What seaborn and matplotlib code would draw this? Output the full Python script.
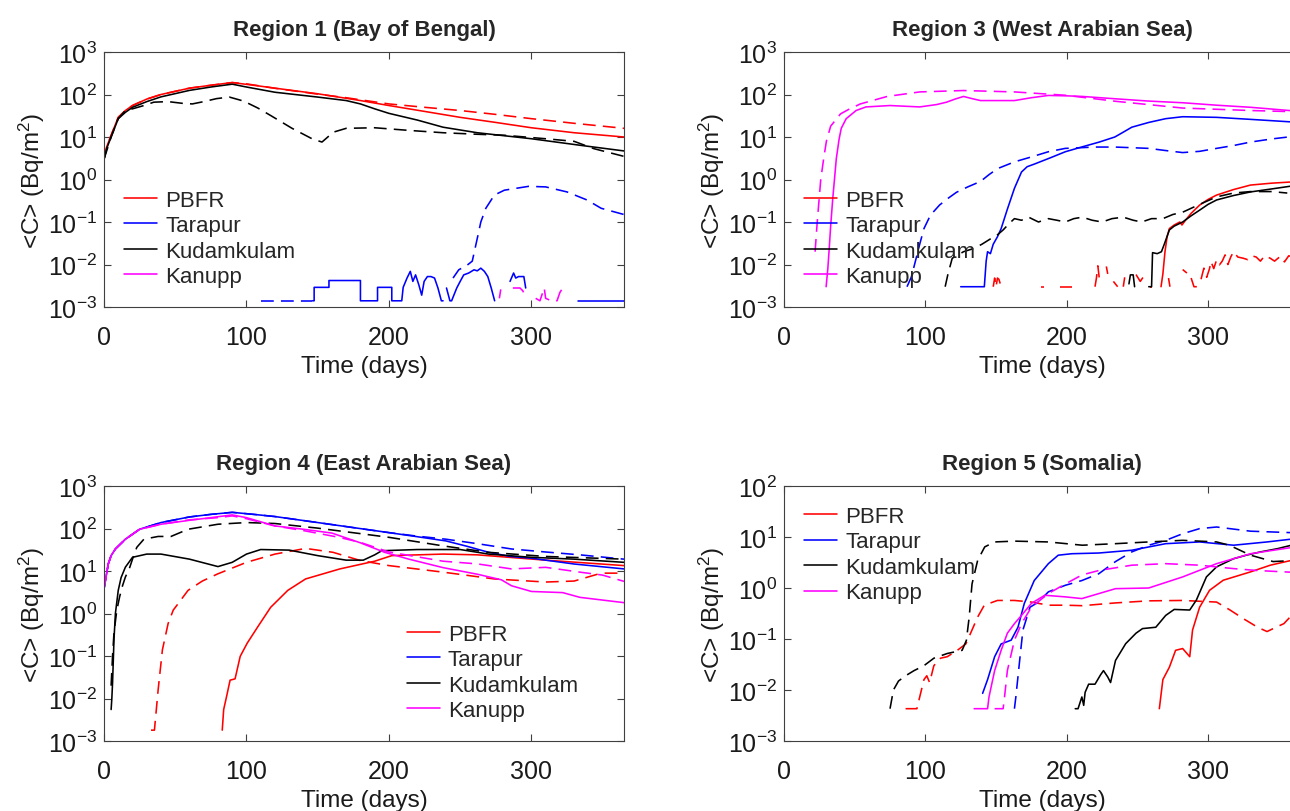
import numpy as np
import pandas as pd
import matplotlib
matplotlib.use('Agg')
import matplotlib.pyplot as plt
import seaborn as sns
from matplotlib.lines import Line2D
from matplotlib.ticker import NullLocator

nan = np.nan

# (day, Bq/m2); nan = break in the curve
# ---- Region 1 (Bay of Bengal)
r1_pbfr = [(0, 3), (2, 6), (5, 11), (10, 29), (15, 42), (20, 55), (30, 78), (40, 100), (60, 141), (75, 165),
           (90, 191), (105, 165), (120, 141), (150, 104), (180, 72), (200, 55), (225, 40), (250, 29), (275, 22),
           (300, 16.5), (330, 12.6), (365, 10)]
r1_pbfr_d = [(0, 3), (2, 6), (5, 11), (10, 29), (15, 42), (20, 55), (30, 78), (40, 100), (60, 141), (75, 165),
             (90, 191), (100, 178), (120, 140), (150, 102), (170, 84), (200, 60), (225, 50), (250, 42), (275, 34),
             (300, 27), (330, 21), (365, 16)]
r1_tar = [(146.3, 1.4e-3), (147.5, 1.4e-3), (147.5, 2.9e-3), (157.9, 2.9e-3), (157.9, 4.2e-3), (180, 4.2e-3),
          (180, 1.4e-3), (192, 1.4e-3), (192, 2.9e-3), (202, 2.9e-3), (202, 1.4e-3), (209, 1.4e-3), (210, 2.9e-3),
          (212.7, 4.8e-3), (215, 6.9e-3), (216.8, 4e-3), (218.7, 5.7e-3), (221, 3.3e-3), (223, 1.9e-3),
          (224.7, 4e-3), (227, 5.2e-3), (229.5, 5.2e-3), (232, 4.8e-3), (234.4, 2.8e-3), (236.8, 1.4e-3),
          (238, 1.4e-3), (239, nan), (240.4, 2.8e-3), (242.8, 1.4e-3), (244, 1.4e-3), (247.6, 2.8e-3),
          (250, 4e-3), (252.5, 5.7e-3), (256, 6.3e-3), (259.7, 7.5e-3), (262, 7.1e-3), (264.5, 8.2e-3),
          (267, 6.9e-3), (269.4, 5.2e-3), (271.8, 2.8e-3), (274.2, 1.4e-3), (280, nan), (285, 4e-3),
          (287.5, 6.3e-3), (289, 4.8e-3), (291, 5.2e-3), (294.7, 5.2e-3), (296, 2.8e-3), (300, nan),
          (333, 1.4e-3), (365, 1.4e-3)]
r1_tar_d = [(110, 1.4e-3), (146, 1.4e-3), (147, nan), (245, 4.8e-3), (249, 7.5e-3), (255, 9.7e-3),
            (258.5, 1.2e-2), (262, 0.041), (264.5, 0.1), (268, 0.21), (274, 0.43), (281, 0.56), (298, 0.69),
            (310, 0.67), (325, 0.51), (339, 0.33), (349, 0.21), (365, 0.15)]
r1_kud = [(0, 3), (2, 5.5), (5, 10), (10, 27), (15, 38), (20, 50), (30, 68), (40, 88), (60, 125), (75, 150),
          (90, 175), (100, 150), (120, 113), (150, 87), (170, 72), (180, 60), (190, 46), (200, 36), (220, 25),
          (238, 17), (262, 12.6), (300, 9.1), (334, 6.4), (365, 4.7)]
r1_kud_d = [(0, 3), (5, 10), (10, 27), (15, 42), (20, 46), (28, 55), (35, 66), (45, 68), (55, 62), (62, 60),
            (70, 68), (79, 80), (88, 87), (98, 70), (108, 48), (117, 32), (132, 16), (146, 9.1), (153, 7.6),
            (161, 13), (170, 16), (190, 16.5), (214, 14.3), (238, 12.6), (262, 11.6), (281, 11), (310, 9.1),
            (330, 7.9), (344, 5.3), (365, 3.5)]
r1_kan = []
r1_kan_d = [(277.5, 1.6e-3), (278.5, 2.6e-3), (280, nan), (287, 2.8e-3), (292, 2.8e-3), (294, 2.4e-3),
            (296, 1.6e-3), (297, nan), (303, 1.6e-3), (306, 1.4e-3), (309, 2.8e-3), (310, 1.6e-3), (314, 1.4e-3),
            (318, 1.4e-3), (320, 2.2e-3), (322, 2.8e-3), (325, 2.6e-3)]

# ---- Region 3 (West Arabian Sea)
r3_pbfr = [(266.7, 3e-3), (268, 6e-3), (269.5, 0.02), (271, 0.045), (272.6, 0.07), (276, 0.085), (280, 0.1),
           (281.5, 0.085), (284, 0.11), (288, 0.16), (294, 0.25), (300, 0.34), (306, 0.43), (318, 0.58),
           (330, 0.74), (345, 0.82), (365, 0.9)]
r3_pbfr_d = [(148, 3e-3), (149, 4.8e-3), (150, 3e-3), (151, 4.8e-3), (152, 4.5e-3), (153.6, 3e-3), (155, nan),
             (182, 3e-3), (184, 3e-3), (185, nan), (195, 3e-3), (204, 3e-3), (205, nan), (220, 3e-3),
             (221, 4.8e-3), (222, 9.3e-3), (223, 4.8e-3), (225, nan), (228, 9e-3), (229, 6e-3), (230, nan),
             (233, 4e-3), (236, 3e-3), (238, nan), (240, 3e-3), (241, 5e-3), (243, nan), (249, 5.8e-3),
             (252, 4e-3), (254, 5e-3), (256, nan), (259, 3e-3), (260, 3e-3), (262, nan), (272, 4.8e-3),
             (273, 3e-3), (275, nan), (282, 7.6e-3), (285, 6.3e-3), (287, nan), (288, 4.8e-3), (290, 3e-3),
             (292, 3e-3), (294, nan), (295, 4.5e-3), (297, 8.2e-3), (299, 5e-3), (301, 8e-3), (302, 0.0118),
             (304, 8e-3), (306, 0.0128), (308, 0.0098), (310, 0.012), (312, 0.0168), (314, 0.01), (316, 0.015),
             (318, 0.02), (321, 0.015), (325, 0.014), (328, 0.013), (331, 0.016), (334, 0.015), (337, 0.012),
             (340, 0.016), (344, 0.014), (347, 0.012), (351, 0.0155), (354, 0.0115), (357, 0.016), (365, 0.014)]
r3_tar = [(125, 3e-3), (141.7, 3e-3), (143, 0.012), (144, 0.02), (146, 0.018), (148, 0.03), (151, 0.045),
          (153.6, 0.07), (158, 0.2), (163, 0.62), (168, 1.5), (172, 2.0), (177, 2.3), (188, 3.2), (199, 4.5),
          (212, 6), (223, 7.6), (234, 10), (240, 13), (246, 17), (258, 22), (270, 27), (282, 30), (306, 29),
          (330, 26), (365, 22)]
r3_tar_d = [(87, 3e-3), (90, 5e-3), (92, 9e-3), (96, 0.03), (99, 0.07), (103.6, 0.145), (110, 0.25),
            (115.5, 0.35), (122, 0.5), (130, 0.67), (139, 0.9), (145, 1.3), (151, 1.8), (163, 2.6), (175, 3.4),
            (187, 4.5), (199, 5.4), (220, 5.8), (234, 5.8), (246, 5.6), (258, 5.4), (270, 4.8), (282, 4.3),
            (294, 4.6), (306, 5.4), (318, 6.3), (330, 7.6), (345, 9), (365, 10.8)]
r3_kud = [(244, 3.5e-3), (245, 5.7e-3), (247, 5.7e-3), (248, 3e-3), (249, nan), (258, 3e-3), (260, 3e-3),
          (260.7, 0.019), (264, 0.018), (267, 0.02), (269, 0.03), (272.6, 0.065), (276, 0.08), (282, 0.1),
          (288, 0.14), (294, 0.19), (300, 0.26), (306, 0.33), (318, 0.42), (330, 0.51), (345, 0.6), (365, 0.75)]
r3_kud_d = [(114, 3e-3), (116, 6e-3), (119, 0.014), (127, 0.02), (134.5, 0.024), (140, 0.03), (146, 0.04),
            (151, 0.05), (155, 0.065), (159, 0.09), (163, 0.12), (168, 0.11), (173, 0.13), (180, 0.1),
            (187, 0.12), (193, 0.11), (199, 0.1), (205, 0.12), (211, 0.13), (218, 0.11), (225, 0.1), (232, 0.12),
            (240, 0.13), (247, 0.11), (253, 0.1), (260, 0.12), (268, 0.12), (275, 0.15), (282, 0.17),
            (294, 0.26), (306, 0.39), (318, 0.48), (330, 0.52), (345, 0.52), (356, 0.48)]
r3_kan = [(29.8, 3e-3), (31, 0.008), (32, 0.024), (33, 0.08), (34.5, 0.36), (36, 1.3), (37, 3.1), (39, 9),
          (40.5, 16), (44, 27), (51, 42), (58, 51), (75, 55), (96, 51), (108, 58), (115, 66), (121, 78),
          (127, 90), (133, 80), (139, 72), (163, 72), (175, 84), (187, 95), (200, 93), (211, 90), (235, 79),
          (258, 70), (282, 64), (306, 56), (330, 50), (365, 40)]
r3_kan_d = [(22, 0.02), (23.5, 0.1), (26, 1.0), (28, 3), (30, 8), (33, 18), (40, 35), (46, 45), (54, 60),
            (73, 90), (96, 115), (127, 124), (163, 115), (199, 96), (235, 69), (282, 48), (330, 42), (365, 39)]

# ---- Region 4 (East Arabian Sea)
r4_pbfr = [(83, 1.8e-3), (84, 5.5e-3), (86, 0.011), (88.5, 0.027), (92, 0.029), (95.6, 0.098), (100.5, 0.2),
           (108, 0.49), (117, 1.4), (129, 3.5), (141.5, 6.5), (165.6, 11.2), (190, 17), (202, 23), (238, 25),
           (262, 24), (310, 18), (365, 13.4)]
r4_pbfr_d = [(33, 1.8e-3), (35.4, 1.8e-3), (38, 0.016), (41, 0.14), (45, 0.58), (48.6, 1.2), (52, 1.7),
             (59, 3.5), (69, 5.8), (80, 8.6), (100, 16), (120, 25), (141.5, 34), (160.8, 27.5), (180, 17.6),
             (200, 13.4), (238, 9.4), (274, 6.5), (310, 5.5), (330, 5.8), (349, 8.9), (365, 8.9)]
r4_tar = [(0, 3.8), (1, 6), (3, 14.7), (5, 23), (8, 33), (15, 56), (25, 96), (40, 138), (60, 187), (75, 215),
          (90, 240), (105, 215), (120, 191), (150, 138), (175, 105), (200, 80), (220, 64), (240, 51), (255, 38),
          (270, 27.5), (285, 22), (300, 20), (330, 14.6), (365, 11.2)]
r4_tar_d = [(0, 3.8), (1, 6), (3, 14.7), (5, 23), (8, 33), (15, 56), (25, 96), (40, 138), (60, 187), (75, 215),
            (90, 240), (105, 215), (120, 191), (150, 138), (175, 105), (200, 80), (220, 66), (240, 56), (262, 44),
            (286, 33), (310, 28), (334, 24), (365, 19)]
r4_kud = [(5, 5.5e-3), (5.5, 0.01), (6, 0.023), (7, 0.24), (8, 1.0), (10, 3.5), (12, 7), (15, 12.3), (20, 21),
          (30, 25), (40, 25), (60, 19), (80, 12.7), (90, 16), (100, 25), (110, 32), (130, 31), (150, 23),
          (170, 18), (182, 18), (190, 24), (195, 30), (220, 32), (250, 32), (270, 25), (300, 21), (330, 19),
          (365, 16)]
r4_kud_d = [(5, 0.02), (6, 0.1), (7, 0.35), (9, 1.2), (11, 2.5), (13, 4.5), (15, 7.2), (18, 12), (20, 19),
            (23, 36), (28, 56), (38, 65), (47, 65), (59, 96), (80, 126), (100, 138), (120, 131), (150, 102),
            (200, 62), (238, 39), (270, 27.5), (310, 22), (365, 19)]
r4_kan = [(0, 3.8), (1, 6), (3, 14.7), (5, 23), (8, 33), (15, 56), (25, 96), (40, 126), (60, 156), (75, 180),
          (90, 209), (100, 180), (120, 115), (140, 96), (160, 78), (180, 46), (197, 27.5), (214, 19), (238, 12),
          (262, 8.4), (279, 6.2), (286, 4.5), (300, 3.3), (322, 3.1), (334, 2.4), (365, 1.8)]
r4_kan_d = [(0, 3.8), (1, 6), (3, 14.7), (5, 23), (8, 33), (15, 56), (25, 96), (40, 126), (60, 160), (80, 180),
            (90, 198), (100, 170), (120, 115), (141, 88), (165, 62), (180, 47), (200, 28), (238, 17),
            (262, 14.7), (286, 11.2), (310, 12.2), (334, 9.4), (350, 8), (365, 5.7)]

# ---- Region 5 (Somalia)
r5_pbfr = [(265.5, 4.3e-3), (268, 0.016), (272.6, 0.028), (277, 0.06), (282, 0.065), (287, 0.045),
           (289, 0.15), (294, 0.42), (301, 0.9), (310.7, 1.42), (330, 2.07), (344, 2.8), (365, 3.8)]
r5_pbfr_d = [(86, 4.3e-3), (94, 4.3e-3), (96, 7.3e-3), (99, 0.016), (101, 0.019), (103, 0.014), (106, 0.03),
             (110.7, 0.042), (115.5, 0.045), (122.6, 0.06), (128.6, 0.08), (132, 0.13), (137, 0.27),
             (141.7, 0.46), (151, 0.57), (163, 0.57), (175, 0.53), (187, 0.46), (199, 0.46), (211, 0.45),
             (234.5, 0.51), (258, 0.56), (282, 0.57), (306, 0.53), (315.5, 0.37), (325, 0.25), (335, 0.17),
             (341.7, 0.14), (348, 0.17), (353.6, 0.2), (358, 0.27), (365, 0.3)]
r5_tar = [(140.5, 8.6e-3), (144, 0.016), (149, 0.045), (153.6, 0.08), (160.7, 0.095), (165.5, 0.17), (170, 0.5),
          (177, 1.4), (187, 3.0), (194, 4.4), (203.6, 4.7), (222.6, 4.85), (246, 5.5), (270, 7.4), (294, 8),
          (318, 6.9), (341.7, 8), (365, 9.5)]
r5_tar_d = [(163, 4.3e-3), (164, 7.3e-3), (166.7, 0.038), (169, 0.15), (174, 0.42), (180, 0.53), (187, 0.84),
            (199, 1.13), (210.7, 1.4), (222.6, 1.9), (234.5, 3.3), (246, 5.1), (258, 6.9), (270, 8.6),
            (282, 11.6), (294, 14.6), (306, 15.7), (330, 13), (365, 12)]
r5_kud = [(206, 4.3e-3), (208, 4.3e-3), (210.7, 7.3e-3), (212, 5e-3), (213, 9e-3), (215.5, 0.013), (220, 0.013),
          (224, 0.02), (226, 0.024), (229, 0.018), (231, 0.014), (234.5, 0.038), (241.7, 0.081), (249, 0.13),
          (253.6, 0.16), (263, 0.17), (270, 0.29), (276, 0.38), (287, 0.37), (291.7, 0.58), (298.8, 1.65),
          (306, 2.6), (318, 3.75), (327, 4.4), (337, 5.1), (349, 5.9), (365, 7.6)]
r5_kud_d = [(75, 4.3e-3), (77.4, 0.01), (81, 0.015), (86, 0.019), (92, 0.024), (99, 0.03), (106, 0.042),
            (115.5, 0.052), (126, 0.06), (129, 0.094), (131, 0.27), (133, 1.2), (137, 3.5), (142, 6.4), (149, 8),
            (163, 8.3), (187, 8), (211, 6.9), (234.5, 7.4), (258, 8), (282, 8.6), (306, 8), (315, 6.9),
            (330, 4.4), (346, 3.3), (365, 3.5)]
r5_kan = [(134.5, 4.3e-3), (144, 4.3e-3), (145, 7.3e-3), (149, 0.024), (153.6, 0.06), (158, 0.13), (163, 0.2),
          (168, 0.29), (175, 0.5), (184.5, 0.72), (199, 0.67), (210.7, 0.62), (234.5, 0.97), (258, 1.0),
          (282, 1.65), (306, 3.0), (330, 4.7), (365, 6.6)]
r5_kan_d = [(149, 4.3e-3), (155, 4.3e-3), (156, 7.3e-3), (158, 0.024), (163, 0.095), (168, 0.2), (175, 0.42),
            (187, 0.78), (199, 1.2), (210.7, 1.8), (222.6, 2.2), (246, 2.8), (270, 3.0), (294, 2.8), (318, 2.4),
            (335, 2.2), (365, 2.0)]

stations = ['PBFR', 'Tarapur', 'Kudamkulam', 'Kanupp']
colors = ['#ff0000', '#0000ff', '#000000', '#ff00ff']
xticks = [0, 100, 200, 300]

sns.set_style('white')
plt.rcParams['font.family'] = ['Liberation Sans', 'DejaVu Sans']
plt.rcParams['mathtext.fontset'] = 'custom'
plt.rcParams['mathtext.rm'] = 'Liberation Sans'
plt.rcParams['mathtext.default'] = 'regular'


def build(series):
    frames = []
    for (station, kind), pairs in series.items():
        if not pairs:
            continue
        df = pd.DataFrame(pairs, columns=['day', 'conc'])
        df['seg'] = df['conc'].isna().cumsum()
        df = df.dropna()
        df['station'] = station
        df['kind'] = kind
        frames.append(df)
    return pd.concat(frames, ignore_index=True)


panels = [
    ('Region 1 (Bay of Bengal)', [r1_pbfr, r1_tar, r1_kud, r1_kan], [r1_pbfr_d, r1_tar_d, r1_kud_d, r1_kan_d],
     (-3, 3), [104 / 1290, 1 - 308 / 812, 520 / 1290, 255 / 812], dict(loc='lower left')),
    ('Region 3 (West Arabian Sea)', [r3_pbfr, r3_tar, r3_kud, r3_kan], [r3_pbfr_d, r3_tar_d, r3_kud_d, r3_kan_d],
     (-3, 3), [784 / 1290, 1 - 308 / 812, 516 / 1290, 255 / 812], dict(loc='lower left')),
    ('Region 4 (East Arabian Sea)', [r4_pbfr, r4_tar, r4_kud, r4_kan], [r4_pbfr_d, r4_tar_d, r4_kud_d, r4_kan_d],
     (-3, 3), [104 / 1290, 1 - 742 / 812, 520 / 1290, 255 / 812],
     dict(loc='lower right', bbox_to_anchor=(0.95, 0.0))),
    ('Region 5 (Somalia)', [r5_pbfr, r5_tar, r5_kud, r5_kan], [r5_pbfr_d, r5_tar_d, r5_kud_d, r5_kan_d],
     (-3, 2), [784 / 1290, 1 - 742 / 812, 516 / 1290, 255 / 812], dict(loc='upper left')),
]

fig = plt.figure(figsize=(12.9, 8.12), dpi=100)

for title, solid, dashed, (ylo, yhi), pos, leg_kw in panels:
    ax = fig.add_axes(pos)
    series = {}
    for st, s, d in zip(stations, solid, dashed):
        series[(st, 'solid')] = s
        series[(st, 'dashed')] = d
    df = build(series)
    sns.lineplot(data=df, x='day', y='conc', hue='station', style='kind', units='seg',
                 estimator=None, sort=False, hue_order=stations, palette=colors,
                 style_order=['solid', 'dashed'], dashes={'solid': '', 'dashed': (8, 4.5)},
                 linewidth=1.15, legend=False, ax=ax)
    ax.set_yscale('log')
    ax.set_ylim(10.0 ** ylo, 10.0 ** yhi)
    ax.set_yticks([10.0 ** k for k in range(ylo, yhi + 1)])
    ax.yaxis.set_minor_locator(NullLocator())
    ax.set_xlim(0, 365)
    ax.set_xticks(xticks)
    ax.tick_params(which='both', direction='in', top=True, right=True, bottom=True, left=True,
                   length=5, width=0.8, color='0.25', labelsize=18, labelcolor='0.1')
    ax.tick_params(axis='x', pad=13)
    ax.tick_params(axis='y', pad=5)
    for sp in ax.spines.values():
        sp.set_color('0.25')
        sp.set_linewidth(0.8)
    ax.set_xlabel('Time (days)', fontsize=17.5, color='0.1', labelpad=4)
    ax.set_ylabel('<C> (Bq/m$^2$)', fontsize=17.5, color='0.1', labelpad=1)
    ax.set_title(title, fontsize=16, fontweight='bold', pad=12)
    handles = [Line2D([], [], color=c, lw=1.15) for c in colors]
    ax.legend(handles, stations, frameon=False, fontsize=16, handlelength=1.5, handletextpad=0.35,
              labelspacing=0.2, borderpad=0.4, borderaxespad=0.5, **leg_kw)

fig.savefig('out.png', dpi=100)
